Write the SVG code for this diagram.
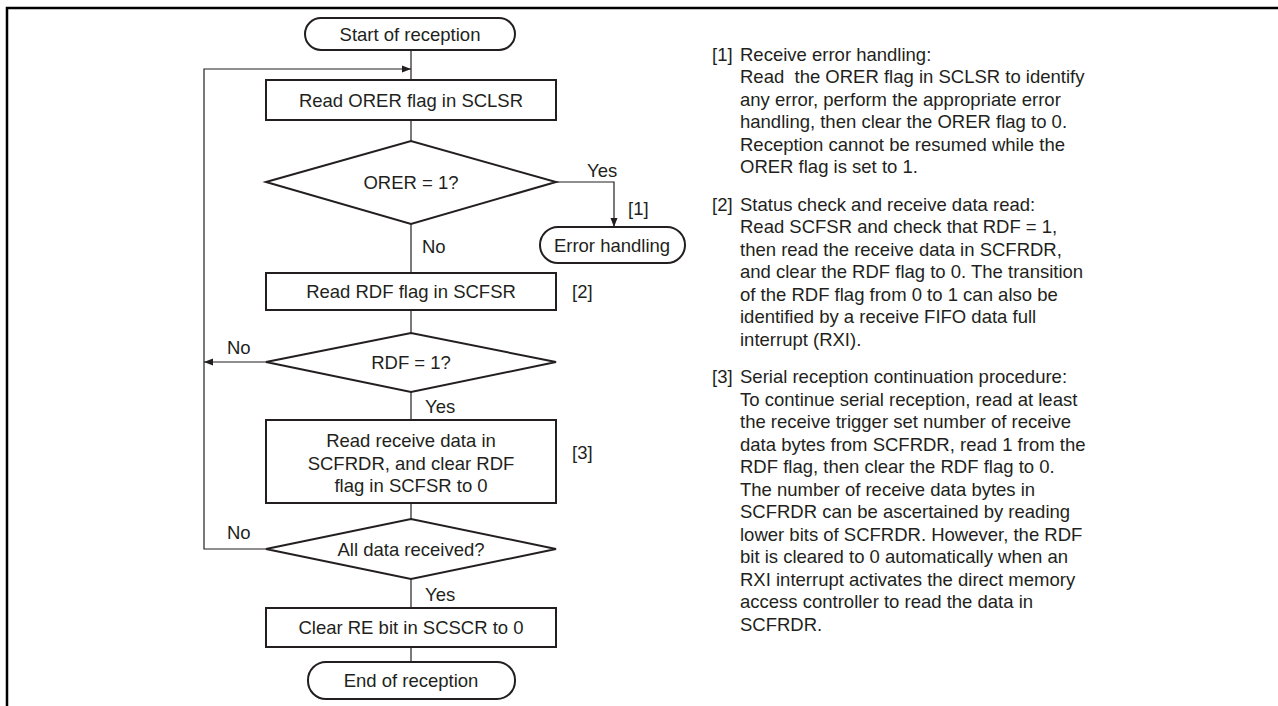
<svg xmlns="http://www.w3.org/2000/svg" width="1278" height="706" viewBox="0 0 1278 706">
<defs>
<style>
.sh{fill:#fff;stroke:#231f20;stroke-width:2}
.ln{fill:none;stroke:#231f20;stroke-width:1.2}
.fr{fill:none;stroke:#000;stroke-width:2.5}
text{font-family:"Liberation Sans",Arial,Helvetica,sans-serif;font-size:18.5px;fill:#231f20}
.c{text-anchor:middle}
.p{white-space:pre}
</style>
<marker id="ah" markerUnits="userSpaceOnUse" markerWidth="10" markerHeight="8" refX="9" refY="4" orient="auto">
<path d="M0,0.5 L9,4 L0,7.5 z" fill="#231f20"/>
</marker>
</defs>
<rect width="1278" height="706" fill="#fff"/>
<path class="fr" d="M7,706 V8 H1278"/>
<g id="connectors">
<path class="ln" d="M411,50 V80"/>
<path class="ln" d="M266,549 H204 V69 H411" marker-end="url(#ah)"/>
<path class="ln" d="M411,120 V141"/>
<path class="ln" d="M556,182 H614 V227" marker-end="url(#ah)"/>
<path class="ln" d="M411,224 V273"/>
<path class="ln" d="M411,310 V333"/>
<path class="ln" d="M266,362 H204" marker-end="url(#ah)"/>
<path class="ln" d="M411,392 V420"/>
<path class="ln" d="M411,503 V519"/>
<path class="ln" d="M411,579 V608"/>
<path class="ln" d="M411,647 V662"/>
<text x="587" y="177">Yes</text>
<text x="628" y="215">[1]</text>
<text x="422" y="253">No</text>
<text x="572" y="298">[2]</text>
<text x="227" y="354">No</text>
<text x="425" y="413">Yes</text>
<text x="572" y="459">[3]</text>
<text x="227" y="539">No</text>
<text x="425" y="601">Yes</text>
</g>
<g id="start">
<rect class="sh" x="305" y="18" width="210" height="32" rx="16"/>
<text class="c" x="410" y="40.5">Start of reception</text>
</g>
<g id="readOrer">
<rect class="sh" x="266" y="80" width="290" height="40"/>
<text class="c" x="411" y="106.5">Read ORER flag in SCLSR</text>
</g>
<g id="orerDecision">
<polygon class="sh" points="266,182 411,141 556,182 411,224"/>
<text class="c" x="411" y="189">ORER = 1?</text>
</g>
<g id="errorHandling">
<rect class="sh" x="540" y="227" width="145" height="36" rx="18"/>
<text class="c" x="612" y="252">Error handling</text>
</g>
<g id="readRdf">
<rect class="sh" x="266" y="273" width="290" height="37"/>
<text class="c" x="411" y="298">Read RDF flag in SCFSR</text>
</g>
<g id="rdfDecision">
<polygon class="sh" points="266,362 411,333 556,362 411,392"/>
<text class="c" x="411" y="368.5">RDF = 1?</text>
</g>
<g id="readData">
<rect class="sh" x="266" y="420" width="290" height="83"/>
<text class="c" x="411" y="446.5">Read receive data in</text>
<text class="c" x="411" y="469.5">SCFRDR, and clear RDF</text>
<text class="c" x="411" y="492">flag in SCFSR to 0</text>
</g>
<g id="allDecision">
<polygon class="sh" points="266,549 411,519 556,549 411,579"/>
<text class="c" x="411" y="555.5">All data received?</text>
</g>
<g id="clearRe">
<rect class="sh" x="266" y="608" width="290" height="39"/>
<text class="c" x="411" y="634">Clear RE bit in SCSCR to 0</text>
</g>
<g id="end">
<rect class="sh" x="308" y="662" width="207" height="37" rx="18"/>
<text class="c" x="411" y="687">End of reception</text>
</g>
<g id="notes">
<text x="712" y="60.5">[1]</text>
<text x="740" y="60.5">Receive error handling:</text>
<text class="p" x="740" y="83">Read  the ORER flag in SCLSR to identify</text>
<text x="740" y="105.5">any error, perform the appropriate error</text>
<text x="740" y="128">handling, then clear the ORER flag to 0.</text>
<text x="740" y="150.5">Reception cannot be resumed while the</text>
<text x="740" y="173">ORER flag is set to 1.</text>
<text x="712" y="210.5">[2]</text>
<text x="740" y="210.5">Status check and receive data read:</text>
<text x="740" y="233">Read SCFSR and check that RDF = 1,</text>
<text x="740" y="255.5">then read the receive data in SCFRDR,</text>
<text x="740" y="278">and clear the RDF flag to 0. The transition</text>
<text x="740" y="300.5">of the RDF flag from 0 to 1 can also be</text>
<text x="740" y="323">identified by a receive FIFO data full</text>
<text x="740" y="345.5">interrupt (RXI).</text>
<text x="712" y="383">[3]</text>
<text x="740" y="383">Serial reception continuation procedure:</text>
<text x="740" y="405.5">To continue serial reception, read at least</text>
<text x="740" y="428">the receive trigger set number of receive</text>
<text x="740" y="450.5">data bytes from SCFRDR, read 1 from the</text>
<text x="740" y="473">RDF flag, then clear the RDF flag to 0.</text>
<text x="740" y="495.5">The number of receive data bytes in</text>
<text x="740" y="518">SCFRDR can be ascertained by reading</text>
<text x="740" y="540.5">lower bits of SCFRDR. However, the RDF</text>
<text x="740" y="563">bit is cleared to 0 automatically when an</text>
<text x="740" y="585.5">RXI interrupt activates the direct memory</text>
<text x="740" y="608">access controller to read the data in</text>
<text x="740" y="630.5">SCFRDR.</text>
</g>
</svg>
